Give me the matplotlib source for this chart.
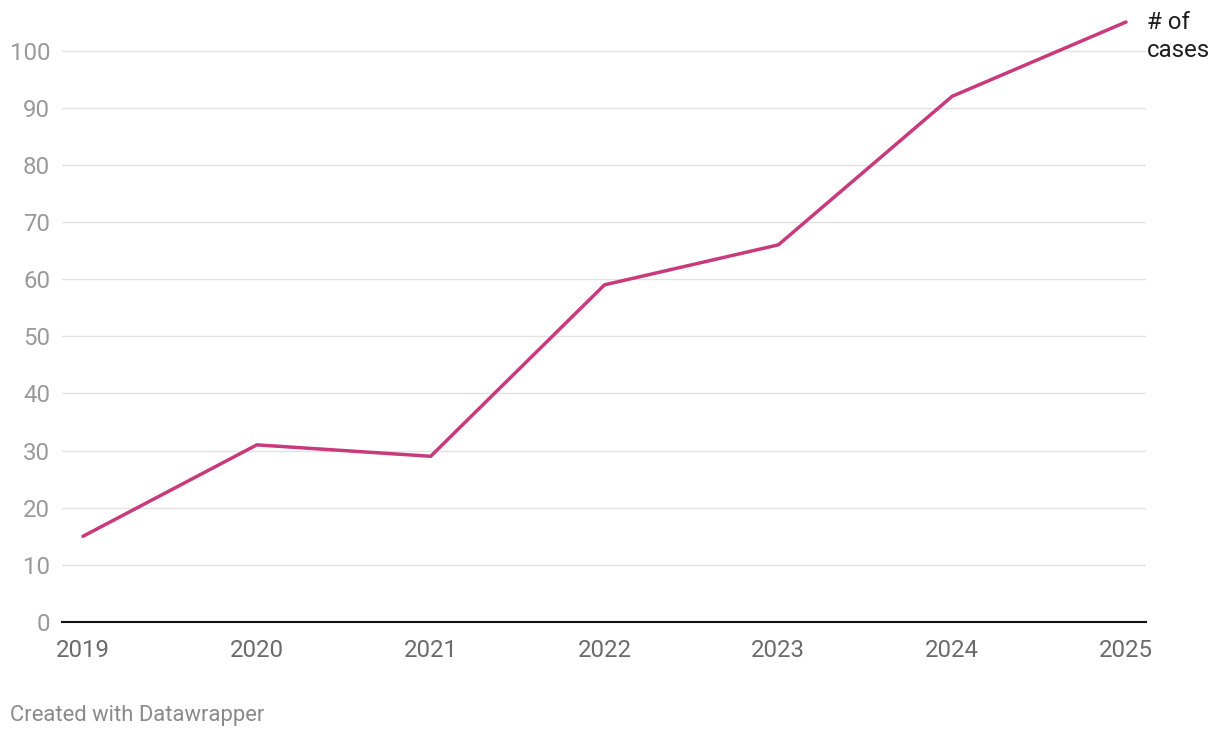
import matplotlib.pyplot as plt

# Daten
jahre = [2019, 2020, 2021, 2022, 2023, 2024, 2025]
faelle = [15, 31, 29, 59, 66, 92, 105]
y_ticks = [0, 10, 20, 30, 40, 50, 60, 70, 80, 90, 100]
serien_name = ["# of", "cases"]

plt.rcParams["font.family"] = ["Roboto", "DejaVu Sans"]

W, H = 1220, 738
fig = plt.figure(figsize=(W / 100, H / 100), dpi=100)
ax = fig.add_axes([62 / W, (H - 622) / H, (1146 - 62) / W, (622 - 22) / H])

ax.plot(jahre, faelle, color="#c93a7d", linewidth=2.5, solid_capstyle="round",
        zorder=3, clip_on=False)

ax.set_xlim(2019 - 21 / 173.8, 2025 + 20 / 173.8)
ax.set_ylim(0, 105)
ax.set_yticks(y_ticks)
ax.set_xticks(jahre)
ax.set_xticklabels([str(j) for j in jahre])

ax.grid(axis="y", color="#e2e2e2", linewidth=1)
ax.set_axisbelow(True)
for s in ["top", "right", "left"]:
    ax.spines[s].set_visible(False)
ax.spines["bottom"].set_color("#111111")
ax.spines["bottom"].set_linewidth(1.5)

ax.tick_params(axis="y", length=0, pad=8.5, labelsize=17.3, labelcolor="#9a9a9a")
ax.tick_params(axis="x", length=0, pad=12, labelsize=17.3, labelcolor="#6b6b6b")

# Serienbeschriftung rechts oben
for i, zeile in enumerate(serien_name):
    fig.text(1147 / W, 1 - (29 + 28 * i) / H, zeile, fontsize=17.3,
             color="#1e1e1e", va="baseline", ha="left")

fig.text(10 / W, 1 - 721 / H, "Created with Datawrapper", fontsize=15.8,
         color="#8a8a8a", va="baseline", ha="left")

fig.savefig("out.png", dpi=100)
